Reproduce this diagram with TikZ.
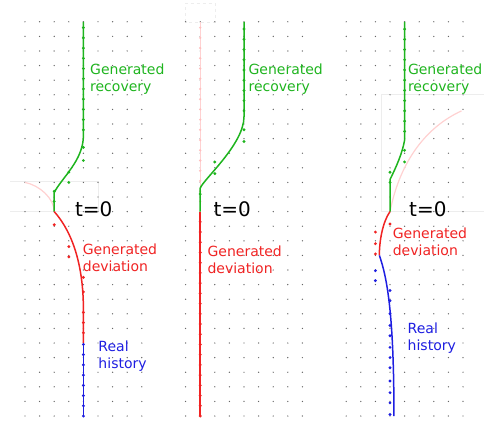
\documentclass[tikz,border=0pt]{standalone}
\usepackage{fontspec}
\setmainfont{DejaVu Sans}
\definecolor{recgreen}{RGB}{30,180,30}
\definecolor{devred}{RGB}{240,35,35}
\definecolor{histblue}{RGB}{30,30,225}
\tikzset{
    griddot/.style={fill=black!60},
    trajline/.style={line width=1.5pt},
    ghostline/.style={line width=1.2pt, draw=red!18},
    frameline/.style={draw=black!7, line width=0.5pt},
    lbl/.style={anchor=west, inner sep=0pt, align=left, font=\fontsize{14}{16.7}\selectfont},
    zerolbl/.style={anchor=base west, inner sep=0pt, font=\fontsize{20}{24}\selectfont}
}
\newcommand{\bead}[2]{\fill[#1] #2 circle (1.6pt);}

\begin{document}
\begin{tikzpicture}[x=14.6pt,y=14.6pt]
    \useasboundingbox (-1.712,-0.753) rectangle (31.438,28.493);

    % faint frames
    \draw[frameline] (-1,16.05) -- (5,16.05) -- (5,14) -- (-1,14);
    \draw[frameline, dashed] (11,27) rectangle (13,28.3);
    \draw[frameline] (24.38,14) rectangle (32,22.05);

    % dot grid
    \foreach \p in {0,11,22}
        \foreach \i in {0,...,8}
            \foreach \j in {0,...,27}
                \fill[griddot] (\p+\i,\j) circle (0.7pt);

    % left panel
    \coordinate (t0a) at (2,14);
    \coordinate (ra1) at (2,15.3);
    \coordinate (ra2) at (4,19.2);
    \coordinate (ra3) at (4,27);
    \coordinate (da1) at (4,7.3);
    \coordinate (ha1) at (4,5);
    \coordinate (ha0) at (4,0);
    \coordinate (ga0) at (0,16);

    \draw[ghostline] (ga0) .. controls (1,15.8) and (2,14.9) .. (t0a);
    \draw[trajline, recgreen] (t0a) -- (ra1) .. controls (2.5,16.3) and (4,17.5) .. (ra2) -- (ra3);
    \draw[trajline, devred] (t0a) .. controls (2.9,13) and (4,11) .. (da1) -- (ha1);
    \draw[trajline, histblue] (ha1) -- (ha0);

    \foreach \y in {19.6,20.3,...,27} {\bead{recgreen}{(4,\y)}}
    \foreach \q in {(4,18.4),(4,17.5),(3,16.7),(3,16.0),(2,15.4),(2,14.7)} {\bead{recgreen}{\q}}
    \foreach \q in {(2,13.1),(3,11.6),(3,10.9),(4,9.5),(4,8.5),(4,7.1),(4,6.4),(4,5.7)} {\bead{devred}{\q}}
    \foreach \y in {0,0.7,...,4.9} {\bead{histblue}{(4,\y)}}

    \node[lbl, text=recgreen] (recA) at (4.45,23.08) {Generated\\recovery};
    \node[zerolbl] (zeroA) at (3.42,13.66) {t=0};
    \node[lbl, text=devred] (devA) at (3.95,10.86) {Generated\\deviation};
    \node[lbl, text=histblue] (histA) at (5.02,4.09) {Real\\history};

    % middle panel
    \coordinate (t0b) at (12,14);
    \coordinate (rb1) at (12,15.6);
    \coordinate (rb2) at (15,20.5);
    \coordinate (rb3) at (15,27);
    \coordinate (gb0) at (12,27);
    \coordinate (hb0) at (12,0);

    \draw[ghostline] (t0b) -- (gb0);
    \foreach \y in {14.7,15.4,...,27} {\fill[red!25] (12,\y) circle (1.3pt);}
    \draw[trajline, recgreen] (t0b) -- (rb1) .. controls (12.2,16.2) and (15,18.6) .. (rb2) -- (rb3);
    \draw[trajline, devred] (t0b) -- (hb0);

    \foreach \y in {20.9,21.6,...,27} {\bead{recgreen}{(15,\y)}}
    \foreach \q in {(15,19.6),(15,18.8),(13,17.4),(13,16.6),(12,15.2)} {\bead{recgreen}{\q}}
    \foreach \y in {0,0.7,...,13.3} {\bead{devred}{(12,\y)}}

    \node[lbl, text=recgreen] (recB) at (15.3,23.08) {Generated\\recovery};
    \node[zerolbl] (zeroB) at (12.9,13.66) {t=0};
    \node[lbl, text=devred] (devB) at (12.49,10.68) {Generated\\deviation};

    % right panel
    \coordinate (t0c) at (25,14);
    \coordinate (rc1) at (25,16.2);
    \coordinate (rc2) at (26,18.9);
    \coordinate (rc3) at (26,27);
    \coordinate (dc1) at (24.27,11);
    \coordinate (hc0) at (25.27,0);
    \coordinate (gc1) at (29.9,20.9);

    \draw[ghostline] (t0c) .. controls (25.7,17.5) and (27.5,19.8) .. (gc1);
    \draw[trajline, recgreen] (t0c) -- (rc1) .. controls (25.4,17) and (25.85,18) .. (rc2) -- (rc3);
    \draw[trajline, devred] (t0c) .. controls (24.5,13.3) and (24.27,12) .. (dc1);
    \draw[trajline, histblue] (dc1) .. controls (24.8,9.5) and (25.27,7) .. (hc0);

    \foreach \y in {19.5,20.2,...,27} {\bead{recgreen}{(26,\y)}}
    \foreach \q in {(26,18.2),(26,17.4),(25,16.7),(25,16.0)} {\bead{recgreen}{\q}}
    \foreach \q in {(25,13.15),(24,12.6),(24,11.8),(24,11.1)} {\bead{devred}{\q}}
    \foreach \q in {(24,9.95),(24,9.27),(25,8.6),(25,7.9),(25,7.0),(25,6.2),(25,5.5),(25,4.7),(25,4.0),(25,3.3),(25,2.4),(25,1.6),(25,0.9),(25,0.1)} {\bead{histblue}{\q}}

    \node[lbl, text=recgreen] (recC) at (26.22,23.08) {Generated\\recovery};
    \node[zerolbl] (zeroC) at (26.3,13.66) {t=0};
    \node[lbl, text=devred] (devC) at (25.18,11.94) {Generated\\deviation};
    \node[lbl, text=histblue] (histC) at (26.2,5.34) {Real\\history};
\end{tikzpicture}
\end{document}
